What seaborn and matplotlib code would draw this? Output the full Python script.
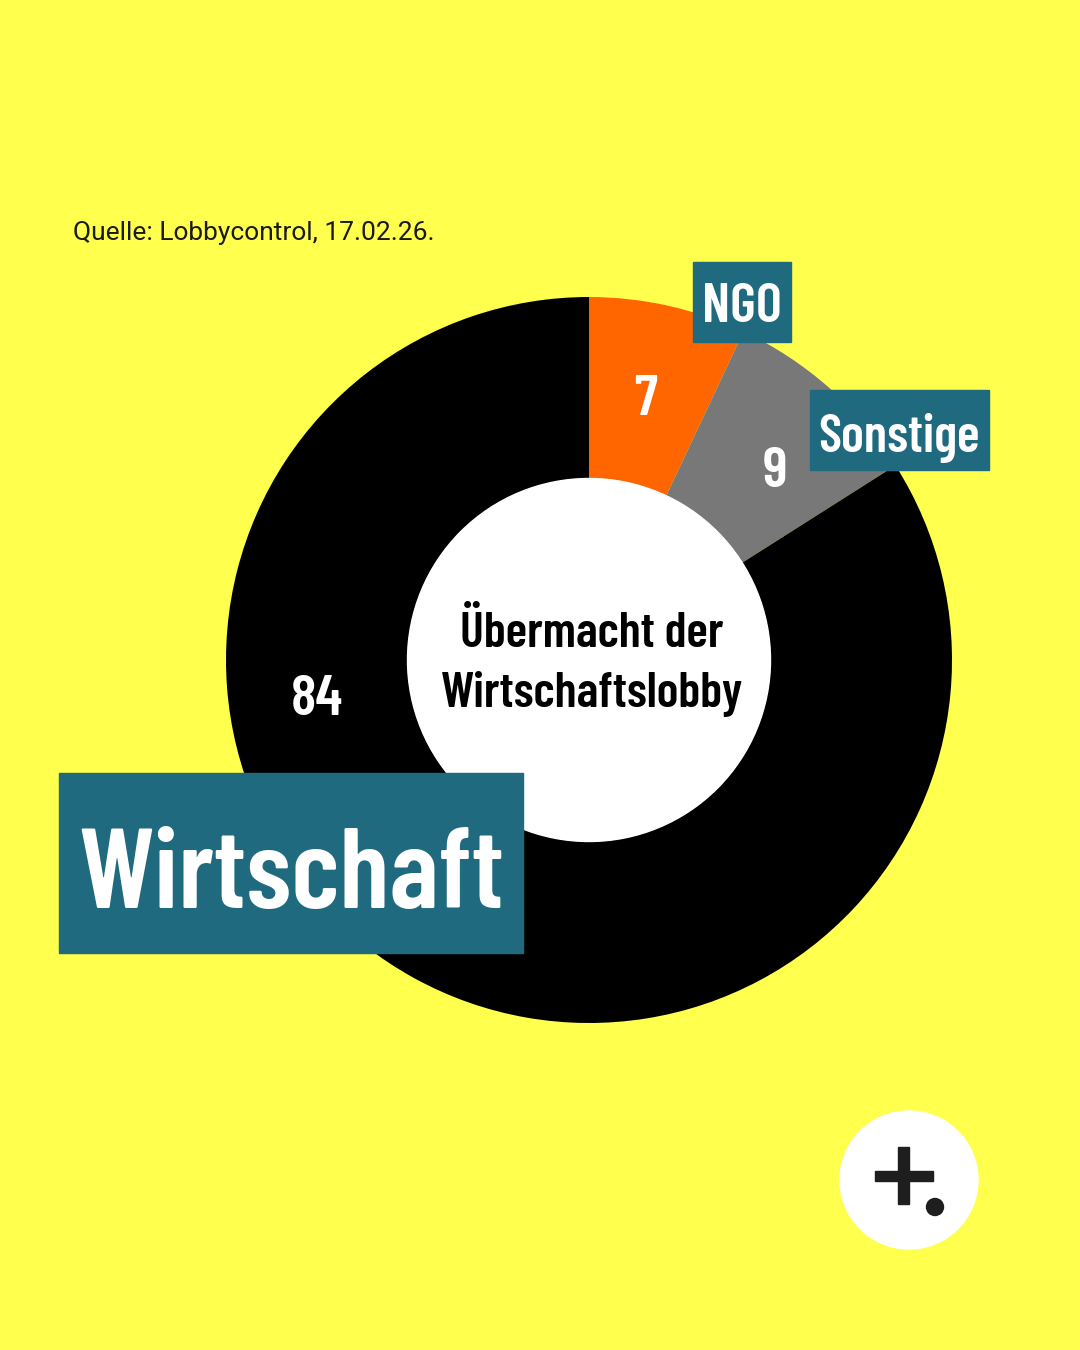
import matplotlib
matplotlib.use("Agg")
import matplotlib.pyplot as plt
import seaborn as sns
from matplotlib.patches import Rectangle, Circle

# data
categories = ["NGO", "Sonstige", "Wirtschaft"]
values = [7, 9, 84]
colors = ["#FF6600", "#787878", "#000000"]

title_lines = ["Übermacht der", "Wirtschaftslobby"]
source = "Quelle: Lobbycontrol, 17.02.26."

YELLOW = "#FFFF4D"
TEAL = "#1F6A7E"
COND = ["Barlow Condensed", "DejaVu Sans"]

sns.set_theme(style="white")
plt.rcParams["font.family"] = ["Roboto", "DejaVu Sans"]

fig = plt.figure(figsize=(10.8, 13.5), dpi=100)
fig.patch.set_facecolor(YELLOW)

# donut axes: centre (589, 660) px, radius 363 px
cx, cy, r = 589, 660, 363
ax = fig.add_axes([(cx - r) / 1080, (1350 - cy - r) / 1350, 2 * r / 1080, 2 * r / 1350])
ax.set_facecolor("none")
wedges, _ = ax.pie(values, colors=colors, startangle=90, counterclock=False,
                   radius=1, wedgeprops=dict(width=0.5, linewidth=0))
ax.add_patch(Circle((0, 0), 0.5, color="white", zorder=3))
ax.set_xlim(-1, 1)
ax.set_ylim(-1, 1)
ax.set_aspect("equal")
ax.axis("off")

# overlay axes in pixel coordinates
ov = fig.add_axes([0, 0, 1, 1])
ov.set_xlim(0, 1080)
ov.set_ylim(1350, 0)
ov.axis("off")
ov.set_facecolor("none")

# value labels (x centre, baseline)
value_pos = [(646, 415), (775, 487), (317, 715)]
for v, (x, y) in zip(values, value_pos):
    ov.text(x, y, str(v), color="white", fontsize=42, fontweight=600,
            family=COND, ha="center", va="baseline")

# centre text
for line, y in zip(title_lines, [647, 707]):
    ov.text(592, y, line, color="black", fontsize=36,
            fontweight=600, family=COND, ha="center", va="baseline")

# category label boxes (x, y, w, h, fontsize, baseline)
boxes = [(693, 262, 98, 80, 40, 322), (810, 390, 179, 80, 38, 452),
         (59, 773, 464, 180, 82, 908)]
for cat, (x, y, w, h, fs, base) in zip(categories, boxes):
    ov.add_patch(Rectangle((x, y), w, h, color=TEAL, zorder=4))
    ov.text(x + w / 2, base, cat, color="white", fontsize=fs,
            fontweight=600, family=COND, ha="center", va="baseline", zorder=5)

# source
ov.text(73, 240, source, color="#1a1a1a", fontsize=19, ha="left", va="baseline")

# logo
ov.add_patch(Circle((909, 1180), 69, color="white"))
ov.add_patch(Rectangle((875, 1171), 58, 10, color="#1e1e1e"))
ov.add_patch(Rectangle((898, 1147), 11, 57, color="#1e1e1e"))
ov.add_patch(Circle((935, 1207), 8.5, color="#1e1e1e"))

fig.savefig("out.png", dpi=100, facecolor=YELLOW)
